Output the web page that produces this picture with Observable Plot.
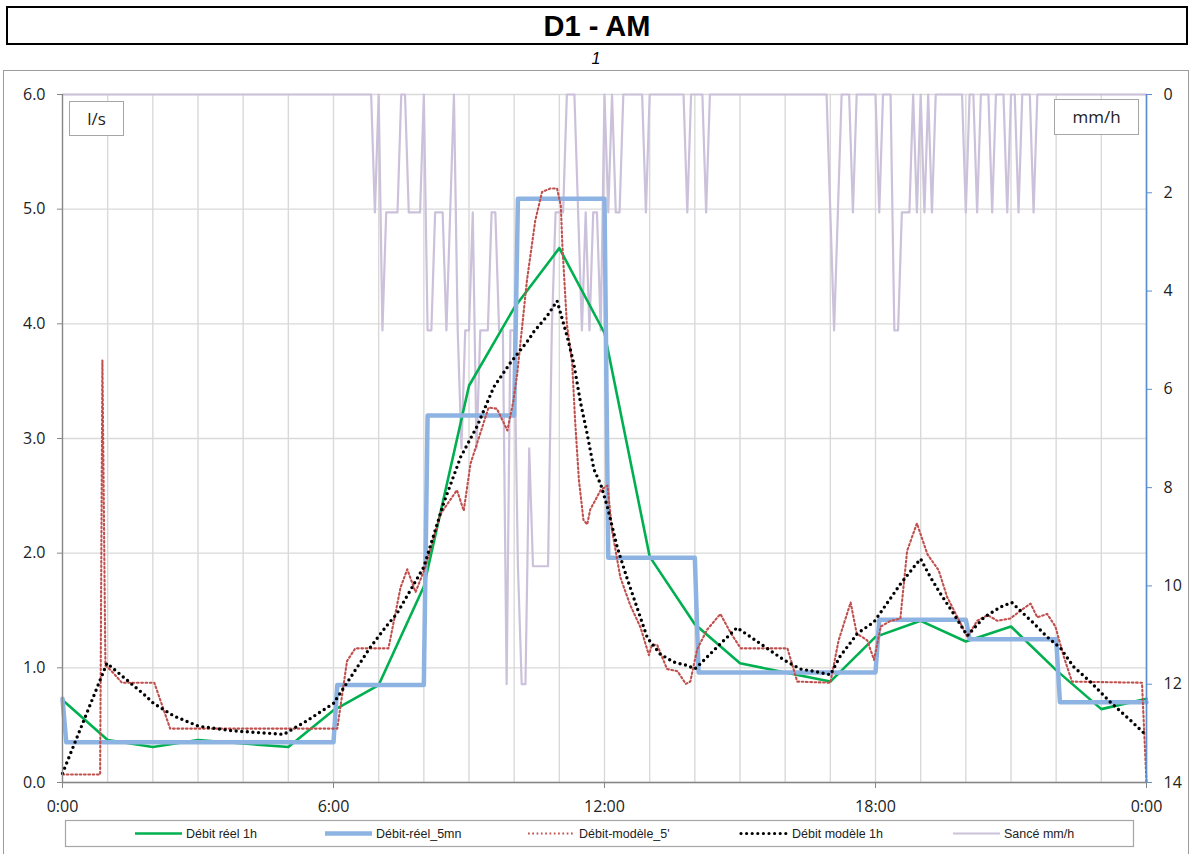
<!DOCTYPE html>
<html>
<head>
<meta charset="utf-8">
<script src="https://cdn.jsdelivr.net/npm/d3@7"></script>
<script src="https://cdn.jsdelivr.net/npm/@observablehq/plot@0.6"></script>
<style>
  body { margin: 0; background: #fff; }
  #wrap { position: relative; width: 1192px; height: 854px; overflow: hidden; background: #fff; }
  #title { position: absolute; left: 6px; top: 6px; width: 1178px; height: 35px; border: 2px solid #000;
           text-align: center; font: bold 29px "Liberation Sans", Arial, sans-serif; line-height: 37px; color: #000; }
  #sub { position: absolute; left: 0; top: 50px; width: 1192px; text-align: center;
         font: italic 16px "Liberation Sans", Arial, sans-serif; color: #000; }
  #chart { position: absolute; left: 0; top: 70px; }
  #frame { position: absolute; left: 3px; top: 70px; width: 1184px; height: 800px; border: 1.5px solid #9c9c9c; pointer-events: none; }
  .ubox { position: absolute; border: 1.5px solid #a6a6a6; background: #fff; text-align: center;
          font: 17px "Open Sans", sans-serif; color: #222; }
  #legend { position: absolute; left: 0; top: 0; }
</style>
</head>
<body>
<div id="wrap">
  <div id="title">D1 - AM</div>
  <div id="sub">1</div>
  <div id="chart"></div>
  <div class="ubox" style="left:69px;top:101px;width:53px;height:33px;line-height:33px;">l/s</div>
  <div class="ubox" style="left:1054px;top:99px;width:83px;height:34px;line-height:34px;">mm/h</div>
  <div id="frame"></div>
  <svg id="legend" width="1192" height="854"></svg>
</div>
<script>
// ---------------- DATA ----------------
// Débit réel 1h (l/s), hourly values 0:00 .. 24:00
const hours = d3.range(0, 25);
const debitReel1h = [0.72, 0.37, 0.31, 0.37, 0.34, 0.31, 0.63, 0.85, 1.71, 3.46, 4.14, 4.66, 3.92,
                     1.97, 1.38, 1.04, 0.96, 0.88, 1.27, 1.41, 1.23, 1.36, 0.98, 0.64, 0.73];

// Débit-réel_5mn (l/s): [minute, value]
const debitReel5mn = [[0,0.73],[5,0.35],[360,0.35],[365,0.85],[480,0.85],[485,3.20],[600,3.20],[605,5.09],
  [720,5.09],[725,1.96],[840,1.96],[845,0.96],[1080,0.96],[1085,1.42],[1200,1.42],[1205,1.25],
  [1320,1.25],[1325,0.70],[1440,0.70]];

// Débit-modèle_5' (l/s): [minute, value]
const debitModele5 = [[0,0.07],[50,0.07],[53,3.68],[57,1.02],[64,0.98],[79,0.87],[122,0.87],[143,0.47],
  [301,0.47],[365,0.47],[378,1.06],[389,1.17],[433,1.17],[449,1.70],[458,1.86],[469,1.66],[482,1.88],
  [502,2.34],[524,2.55],[533,2.37],[542,2.78],[566,3.27],[577,3.26],[591,3.07],[599,3.33],[604,3.56],
  [617,4.38],[628,4.90],[637,5.15],[648,5.18],[657,5.18],[662,5.03],[664,4.69],[670,4.00],[677,3.66],
  [681,3.15],[686,2.64],[692,2.29],[697,2.25],[701,2.38],[715,2.55],[724,2.59],[730,2.20],[741,1.79],
  [754,1.55],[768,1.35],[779,1.11],[783,1.20],[790,1.20],[803,0.99],[817,0.97],[828,0.86],[834,0.88],
  [843,1.16],[856,1.33],[874,1.47],[888,1.30],[901,1.17],[963,1.17],[976,0.88],[1020,0.87],[1031,1.24],
  [1047,1.57],[1055,1.30],[1069,1.24],[1078,1.07],[1087,1.36],[1100,1.41],[1113,1.43],[1122,2.02],
  [1135,2.26],[1149,1.99],[1164,1.85],[1175,1.62],[1189,1.44],[1202,1.27],[1215,1.41],[1229,1.46],
  [1242,1.41],[1259,1.43],[1273,1.50],[1286,1.56],[1295,1.44],[1308,1.47],[1319,1.36],[1330,1.10],
  [1341,0.88],[1434,0.87],[1440,0.00]];

// Débit modèle 1h (l/s): [minute, value]
const debitModele1h = [[0,0.08],[59,1.04],[79,0.93],[108,0.77],[121,0.69],[148,0.58],[181,0.49],[228,0.45],
  [272,0.43],[294,0.42],[325,0.54],[360,0.69],[368,0.77],[389,0.98],[409,1.18],[431,1.37],[444,1.47],
  [480,1.88],[506,2.43],[529,2.84],[551,3.11],[573,3.45],[595,3.66],[619,3.86],[626,3.93],[644,4.07],
  [657,4.20],[670,3.90],[679,3.66],[688,3.32],[697,3.04],[706,2.73],[715,2.60],[724,2.40],[737,2.05],
  [750,1.78],[763,1.53],[777,1.26],[794,1.12],[812,1.05],[830,1.02],[840,0.99],[848,1.04],[874,1.21],
  [896,1.35],[914,1.27],[936,1.17],[958,1.07],[980,0.99],[1002,0.965],[1020,0.94],[1033,1.10],[1056,1.30],
  [1078,1.40],[1095,1.56],[1113,1.73],[1131,1.88],[1140,1.95],[1153,1.79],[1166,1.65],[1184,1.47],
  [1202,1.28],[1224,1.44],[1246,1.53],[1261,1.57],[1277,1.47],[1290,1.39],[1308,1.27],[1326,1.17],
  [1343,1.01],[1365,0.88],[1392,0.70],[1419,0.54],[1440,0.41]];

// Sancé mm/h, one value every 5 minutes (12 per hour), 0:00 .. 24:00
const sance5mn = [
  0,0,0,0,0,0,0,0,0,0,0,0,            // 0h
  0,0,0,0,0,0,0,0,0,0,0,0,            // 1h
  0,0,0,0,0,0,0,0,0,0,0,0,            // 2h
  0,0,0,0,0,0,0,0,0,0,0,0,            // 3h
  0,0,0,0,0,0,0,0,0,0,0,0,            // 4h
  0,0,0,0,0,0,0,0,0,0,0,0,            // 5h
  0,0,0,0,0,0,0,0,0,0,0,2.4,          // 6h
  0,4.8,2.4,2.4,2.4,2.4,0,0,2.4,2.4,2.4,2.4,        // 7h
  0,4.8,4.8,2.4,2.4,2.4,4.8,2.4,0,4.8,7.2,4.8,      // 8h
  4.8,2.4,7.2,4.8,4.8,4.8,2.4,2.4,4.8,4.8,12,4.8,   // 9h
  4.8,9.6,12,12,7.2,9.6,9.6,9.6,9.6,9.6,4.8,2.4,    // 10h
  2.4,2.4,0,0,0,2.4,4.8,2.4,4.8,2.4,2.4,4.8,        // 11h
  0,2.4,0,2.4,2.4,0,0,0,0,0,0,2.4,                  // 12h
  0,0,0,0,0,0,0,0,0,0,2.4,0,          // 13h
  0,0,0,2.4,0,0,0,0,0,0,0,0,          // 14h
  0,0,0,0,0,0,0,0,0,0,0,0,            // 15h
  0,0,0,0,0,0,0,0,0,0,0,0,            // 16h
  2.4,4.8,2.4,0,0,0,2.4,0,0,0,0,0,    // 17h
  0,2.4,0,0,0,4.8,4.8,2.4,2.4,2.4,0,2.4,            // 18h
  0,2.4,0,2.4,0,0,0,0,0,0,0,0,        // 19h
  2.4,0,0,2.4,0,0,0,2.4,0,0,0,2.4,    // 20h
  0,0,2.4,0,0,0,2.4,0,0,0,0,0,        // 21h
  0,0,0,0,0,0,0,0,0,0,0,0,            // 22h
  0,0,0,0,0,0,0,0,0,0,0,0,            // 23h
  0                                   // 24h
];

const flowTicks = [0, 1, 2, 3, 4, 5, 6];
const rainTicks = [0, 2, 4, 6, 8, 10, 12, 14];
const hourGrid = d3.range(0, 1441, 60);
const timeTicks = [0, 360, 720, 1080, 1440];
const timeLabels = ["0:00", "6:00", "12:00", "18:00", "0:00"];

const seriesNames = ["Débit réel 1h", "Débit-réel_5mn", "Débit-modèle_5'", "Débit modèle 1h", "Sancé mm/h"];
const seriesColors = ["#00B050", "#8DB3E2", "#C0504D", "#000000", "#CCC1DA"];

// ---------------- CHART ----------------
const rainToFlow = d3.scaleLinear([0, 14], [6, 0]);

const green = hours.map((h, i) => ({t: h * 60, v: debitReel1h[i]}));
const blue = debitReel5mn.map(([t, v]) => ({t, v}));
const red = debitModele5.map(([t, v]) => ({t, v}));
const black = debitModele1h.map(([t, v]) => ({t, v}));
const rain = sance5mn.map((r, i) => ({t: i * 5, v: rainToFlow(r)}));

const redDash = "1.7 2.6";
const blackDash = "0 5.6";

const chart = Plot.plot({
  width: 1192,
  height: 784,
  marginLeft: 62,
  marginRight: 46,
  marginTop: 24,
  marginBottom: 72,
  style: {fontFamily: "'Open Sans', sans-serif", fontSize: "16px", background: "transparent", color: "#222"},
  x: {type: "linear", domain: [0, 1440], axis: null},
  y: {domain: [0, 6], axis: null},
  marks: [
    Plot.ruleX(hourGrid, {stroke: "#D9D9D9", strokeWidth: 1.4}),
    Plot.ruleY(flowTicks, {stroke: "#D9D9D9", strokeWidth: 1.4}),
    Plot.line(rain, {x: "t", y: "v", stroke: seriesColors[4], strokeWidth: 2.2}),
    Plot.line(green, {x: "t", y: "v", stroke: seriesColors[0], strokeWidth: 2.6}),
    Plot.line(blue, {x: "t", y: "v", stroke: seriesColors[1], strokeWidth: 4.5}),
    Plot.line(red, {x: "t", y: "v", stroke: seriesColors[2], strokeWidth: 2.1, strokeDasharray: redDash}),
    Plot.line(black, {x: "t", y: "v", stroke: seriesColors[3], strokeWidth: 3.4, strokeDasharray: blackDash, strokeLinecap: "round"}),
    Plot.ruleX([0], {stroke: "#868686", strokeWidth: 1.3}),
    Plot.ruleY([0], {stroke: "#868686", strokeWidth: 1.3}),
    Plot.ruleX([1440], {stroke: "#5B8FD0", strokeWidth: 1.6}),
    Plot.axisY(flowTicks, {anchor: "left", tickSize: 5, tickPadding: 12, stroke: "#868686", fill: "#222",
      tickFormat: d3.format(".1f"), label: null}),
    Plot.axisY(rainTicks.map(r => rainToFlow(r)), {anchor: "right", tickSize: 5, tickPadding: 12, stroke: "#5B8FD0", fill: "#222",
      tickFormat: d => String(Math.round(rainToFlow.invert(d))), label: null}),
    Plot.axisX(timeTicks, {anchor: "bottom", tickSize: 6, tickPadding: 12, stroke: "#868686", fill: "#222",
      tickFormat: d => timeLabels[timeTicks.indexOf(d)], label: null})
  ]
});
document.getElementById("chart").appendChild(chart);

// ---------------- LEGEND ----------------
const lg = d3.select("#legend");
lg.append("rect").attr("x", 65.5).attr("y", 820.5).attr("width", 1068).attr("height", 26)
  .attr("fill", "#fff").attr("stroke", "#A6A6A6").attr("stroke-width", 1.2);
const legendX = [135, 325, 528, 741, 953];
const legendStyles = [
  {w: 2.6, dash: null, cap: "butt"},
  {w: 4.5, dash: null, cap: "butt"},
  {w: 2.1, dash: redDash, cap: "butt"},
  {w: 3.2, dash: blackDash, cap: "round"},
  {w: 2.2, dash: null, cap: "butt"}
];
seriesNames.forEach((name, i) => {
  const x0 = legendX[i];
  lg.append("line").attr("x1", x0).attr("x2", x0 + 47).attr("y1", 833.5).attr("y2", 833.5)
    .attr("stroke", seriesColors[i]).attr("stroke-width", legendStyles[i].w)
    .attr("stroke-dasharray", legendStyles[i].dash).attr("stroke-linecap", legendStyles[i].cap);
  lg.append("text").attr("x", x0 + 51).attr("y", 838).text(name)
    .attr("font-family", "'Liberation Sans', Arial, sans-serif").attr("font-size", 12.5).attr("fill", "#222");
});
</script>
</body>
</html>
